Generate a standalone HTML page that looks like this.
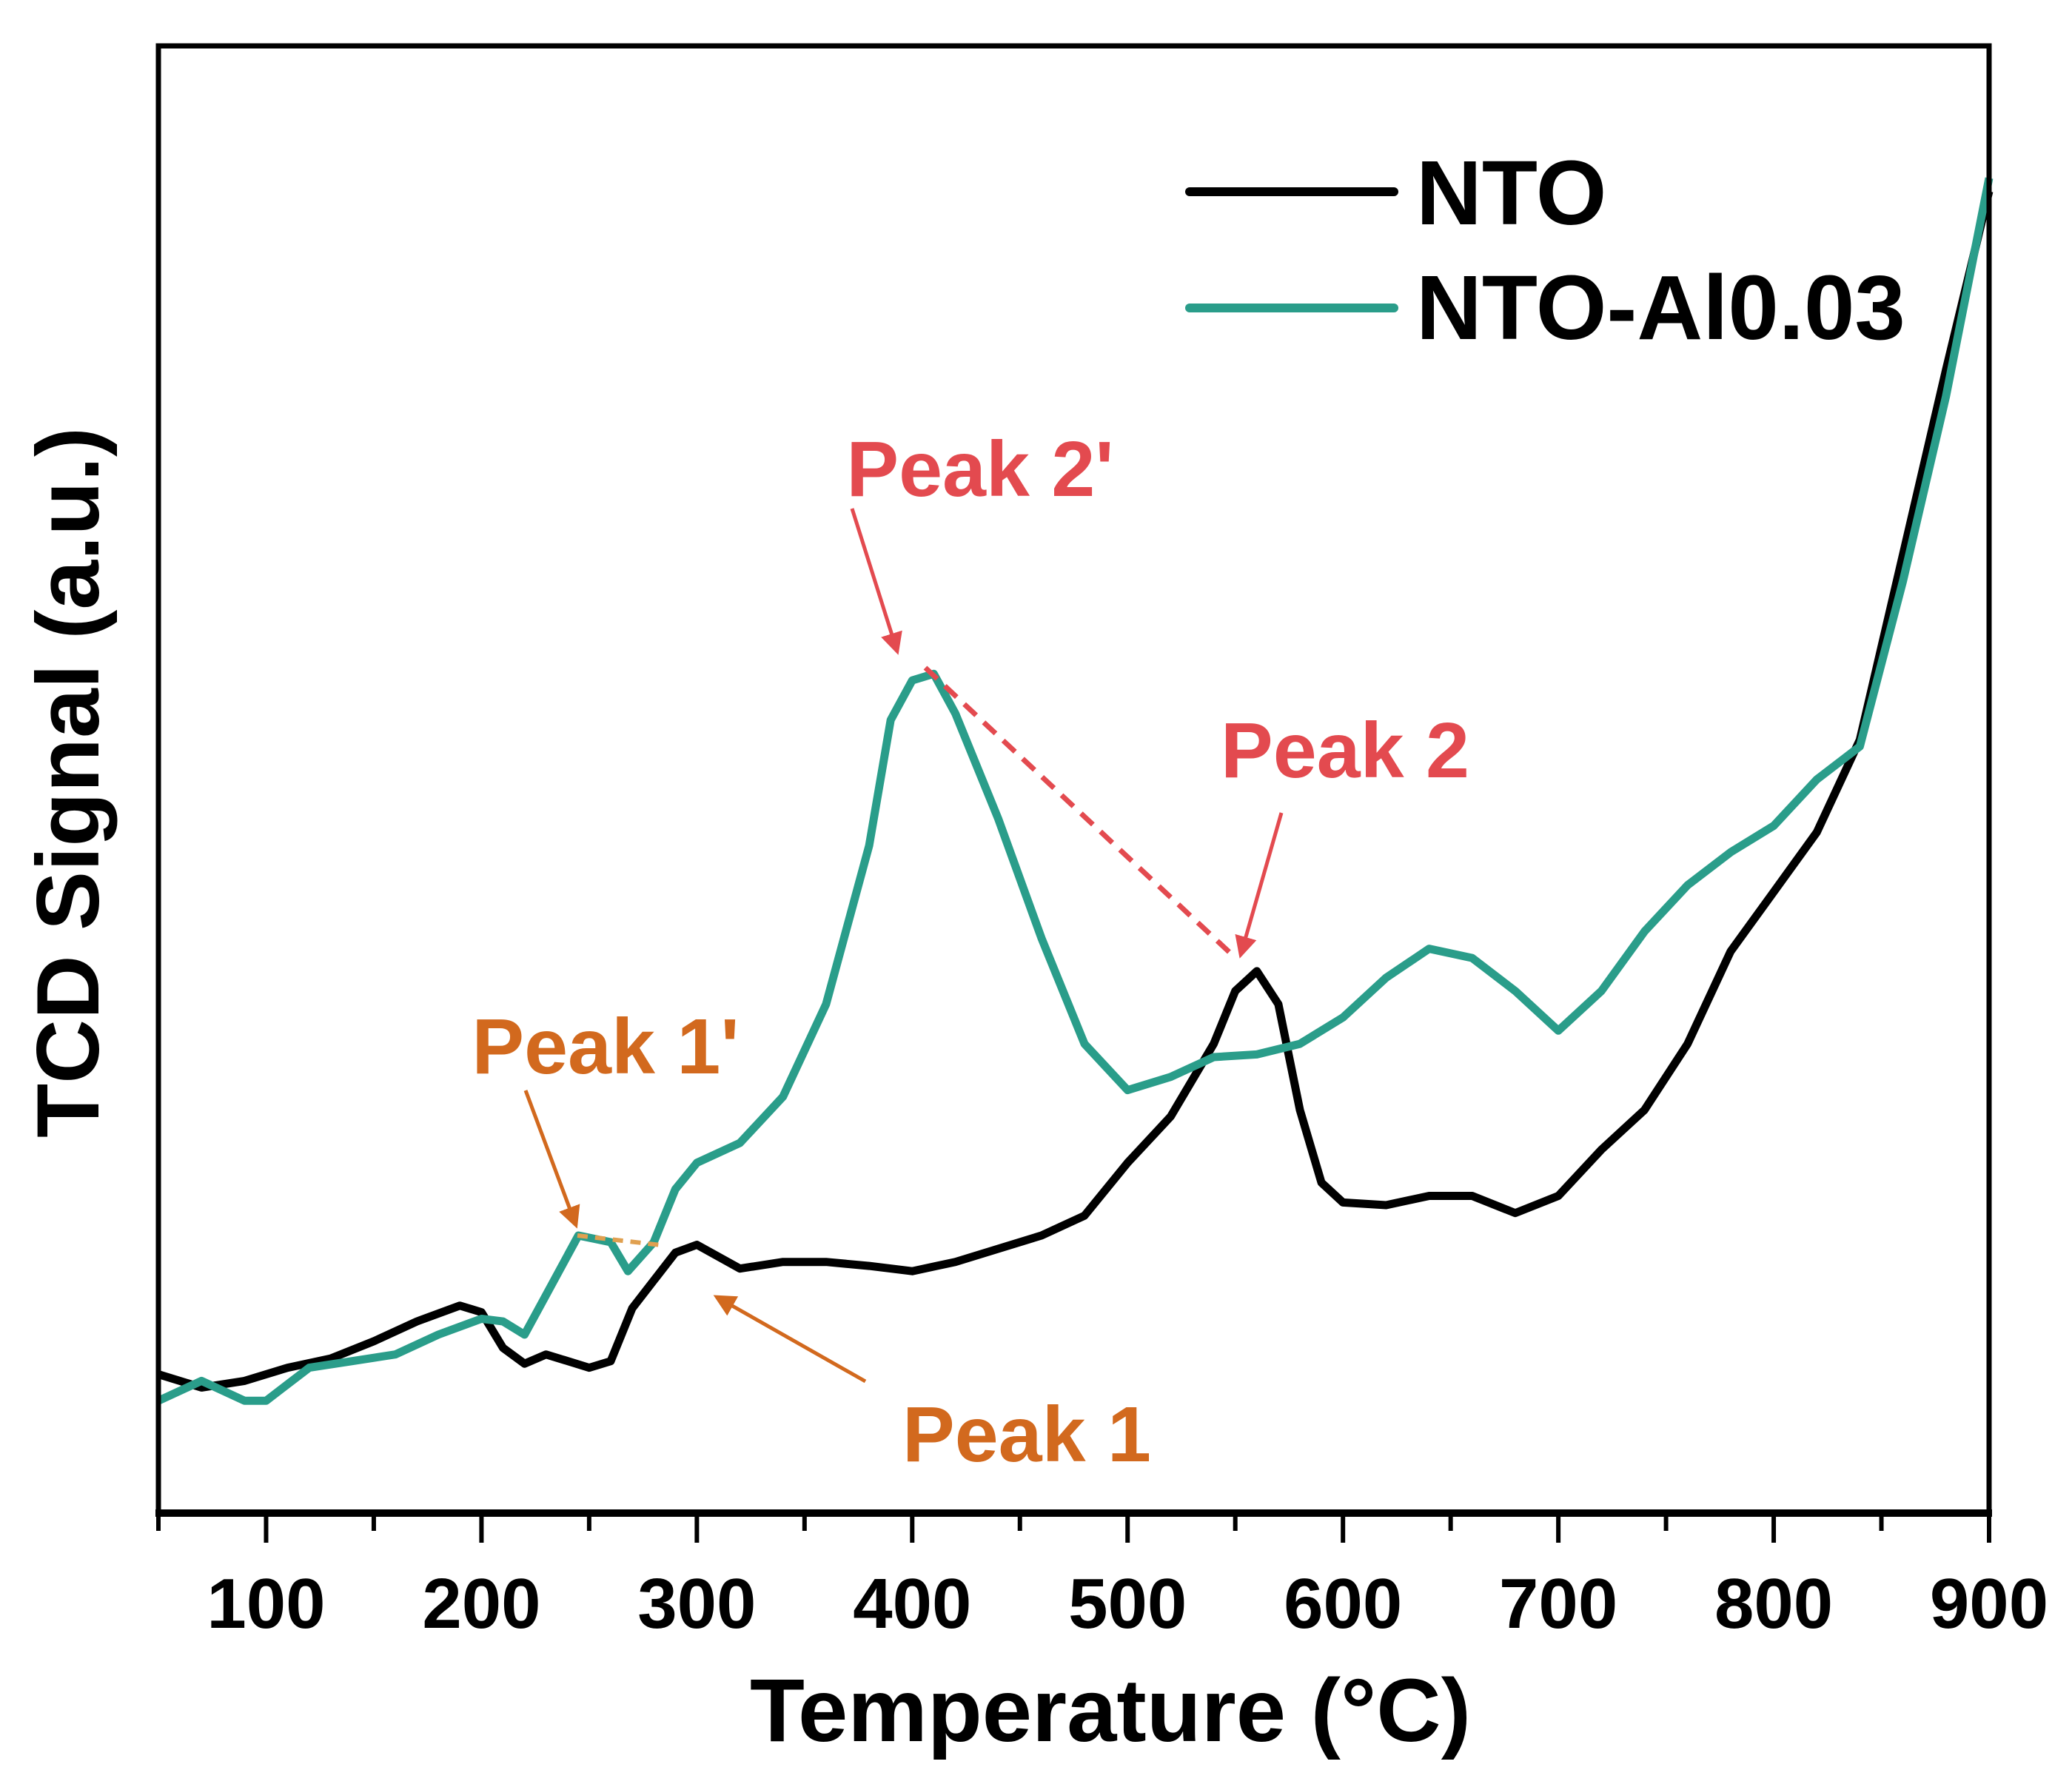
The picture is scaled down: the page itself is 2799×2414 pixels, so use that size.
<!DOCTYPE html>
<html><head><meta charset="utf-8"><style>html,body{margin:0;padding:0;background:#fff}svg{display:block}text{font-family:"Liberation Sans",sans-serif;font-weight:bold}</style></head>
<body>
<svg id="chart" width="2799" height="2414" viewBox="0 0 2799 2414" xmlns="http://www.w3.org/2000/svg">
<defs>
<marker id="arR" markerWidth="6" markerHeight="6" refX="5" refY="3" orient="auto" markerUnits="strokeWidth"><path d="M0,0 L6,3 L0,6 z" fill="#e34a4f"/></marker>
<marker id="arO" markerWidth="6" markerHeight="6" refX="5" refY="3" orient="auto" markerUnits="strokeWidth"><path d="M0,0 L6,3 L0,6 z" fill="#d2691e"/></marker>
</defs>
<g id="marks"></g>
<rect x="214" y="62" width="2473" height="1982" fill="none" stroke="#000" stroke-width="7"/>
<line x1="210" y1="2044" x2="2691" y2="2044" stroke="#000" stroke-width="10"/>
<g id="ticks"></g>
<text x="1500" y="2352" font-size="121" text-anchor="middle">Temperature (°C)</text>
<text transform="translate(133,1057) rotate(-90)" font-size="120" text-anchor="middle">TCD Signal (a.u.)</text>
<g>
<line x1="1607" y1="259" x2="1883" y2="259" stroke="#000" stroke-width="12" stroke-linecap="round"/>
<text x="1913" y="303" font-size="123">NTO</text>
<line x1="1607" y1="416" x2="1883" y2="416" stroke="#2a9d8a" stroke-width="12" stroke-linecap="round"/>
<text x="1913" y="458" font-size="123">NTO-Al0.03</text>
</g>
<g>
<text x="1324" y="670" font-size="106" fill="#e34a4f" text-anchor="middle">Peak 2'</text>
<line x1="1151" y1="687" x2="1212" y2="880" stroke="#e34a4f" stroke-width="5" marker-end="url(#arR)"/>
<line x1="1250" y1="902" x2="1669" y2="1294" stroke="#e34a4f" stroke-width="7" stroke-dasharray="22,14"/>
<text x="1817" y="1050" font-size="106" fill="#e34a4f" text-anchor="middle">Peak 2</text>
<line x1="1731" y1="1098" x2="1676" y2="1290" stroke="#e34a4f" stroke-width="5" marker-end="url(#arR)"/>
<text x="818" y="1450" font-size="106" fill="#d2691e" text-anchor="middle">Peak 1'</text>
<line x1="710" y1="1473" x2="778" y2="1655" stroke="#d2691e" stroke-width="5" marker-end="url(#arO)"/>
<line x1="780" y1="1669" x2="893" y2="1682" stroke="#e0a050" stroke-width="6" stroke-dasharray="14,10"/>
<text x="1387" y="1974" font-size="106" fill="#d2691e" text-anchor="middle">Peak 1</text>
<line x1="1169" y1="1866" x2="968" y2="1752" stroke="#d2691e" stroke-width="5" marker-end="url(#arO)"/>
</g>
</svg>
<script>
const ntoTemps=[50,70,90,110,130,150,170,190,200,210,220,230,250,260,270,290,300,320,340,360,380,400,420,440,460,480,500,520,540,550,560,570,580,590,600,620,640,660,680,700,720,740,760,780,800,820,840,860,880,900];
const ntoSignal=[105,95,100,110,117,130,145,157,152,125,113,120,110,115,155,197,203,185,190,190,187,183,190,200,210,225,265,300,355,395,410,385,305,250,235,233,240,240,227,240,275,305,355,425,470,515,585,725,865,1000];
const alTemps=[50,70,90,100,120,140,160,180,200,210,220,230,245,260,268,280,290,300,320,340,360,380,390,400,410,420,440,460,480,500,520,540,560,580,600,620,640,660,680,700,720,740,760,780,800,820,840,860,880,900];
const alSignal=[85,100,85,85,110,115,120,135,147,145,135,165,210,205,183,205,245,265,280,315,385,505,600,630,635,605,525,435,355,320,330,345,347,355,375,405,427,420,395,365,395,440,475,500,520,555,580,705,845,1010];
const xTicks=[100,200,300,400,500,600,700,800,900];
const xMinor=[50,150,250,350,450,550,650,750,850];
const X0=214,X1=2687,Y0=2044,Y1=62;
function xs(t){return X0+(t-50)/(900-50)*(X1-X0);}
function ys(v){return Y0-v/1110*(Y0-Y1);}
const NS='http://www.w3.org/2000/svg';
const marks=document.getElementById('marks');
function line(ts,vs,color,name){
  const p=document.createElementNS(NS,'polyline');
  p.setAttribute('points',ts.map((t,i)=>xs(t).toFixed(1)+','+ys(vs[i]).toFixed(1)).join(' '));
  p.setAttribute('fill','none');p.setAttribute('stroke',color);p.setAttribute('stroke-width','11');p.setAttribute('stroke-linejoin','round');
  
  
  marks.appendChild(p);
}
line(ntoTemps,ntoSignal,'#000','series-nto');
line(alTemps,alSignal,'#2a9d8a','series-nto-al');
const tg=document.getElementById('ticks');
xTicks.forEach(t=>{
  const l=document.createElementNS(NS,'line');
  l.setAttribute('x1',xs(t));l.setAttribute('x2',xs(t));l.setAttribute('y1',Y0);l.setAttribute('y2',Y0+40);
  l.setAttribute('stroke','#000');l.setAttribute('stroke-width','6');
  
  
  tg.appendChild(l);
  const tx=document.createElementNS(NS,'text');
  tx.setAttribute('x',xs(t));tx.setAttribute('y',2199);tx.setAttribute('font-size','96');tx.setAttribute('text-anchor','middle');
  tx.textContent=t;
  
  
  tg.appendChild(tx);
});
xMinor.forEach(t=>{
  const l=document.createElementNS(NS,'line');
  l.setAttribute('x1',xs(t));l.setAttribute('x2',xs(t));l.setAttribute('y1',Y0);l.setAttribute('y2',Y0+24);
  l.setAttribute('stroke','#000');l.setAttribute('stroke-width','6');
  
  
  tg.appendChild(l);
});
</script>
</body></html>
